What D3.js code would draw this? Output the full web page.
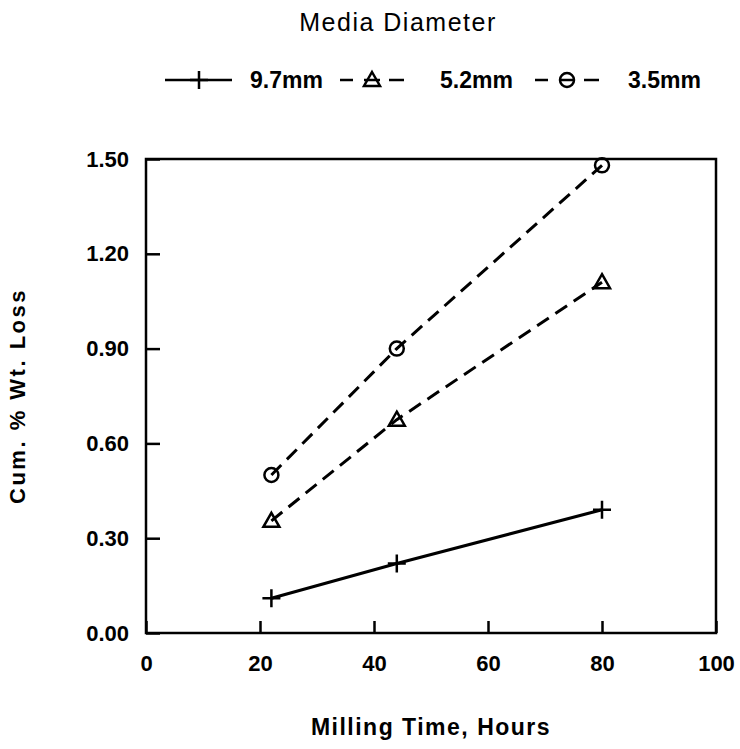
<!DOCTYPE html>
<html>
<head>
<meta charset="utf-8">
<script src="https://cdn.jsdelivr.net/npm/d3@7"></script>
<style>
  body { margin: 0; background: #fff; }
</style>
</head>
<body>
<div id="chart"></div>
<script>
// values
const hours = [22, 44, 80];
const loss97 = [0.11, 0.22, 0.39];
const loss52 = [0.355, 0.675, 1.11];
const loss35 = [0.50, 0.90, 1.48];
const seriesNames = ['9.7mm', '5.2mm', '3.5mm'];
const xTicks = [0, 20, 40, 60, 80, 100];
const yTicks = [0, 0.3, 0.6, 0.9, 1.2, 1.5];

const font = 'Arial, "Liberation Sans", Helvetica, sans-serif';
const width = 740;
const height = 749;
const margins = {left: 146, top: 159, right: 24, bottom: 116};
const chartWidth = width - margins.left - margins.right;
const chartHeight = height - margins.top - margins.bottom;

const root = d3.select('#chart')
  .append('svg')
  .attr('width', width)
  .attr('height', height)
  .style('display', 'block');

const svg = root.append('g')
  .attr('transform', 'translate(' + margins.left + ',' + margins.top + ')');

const x = d3.scaleLinear().domain([0, 100]).range([0, chartWidth]);
const y = d3.scaleLinear().domain([0, 1.5]).range([chartHeight, 0]);

// axes, ticks point inward like the original
const xAxis = svg.append('g')
  .attr('transform', 'translate(0,' + chartHeight + ')')
  .call(d3.axisBottom(x).tickValues(xTicks).tickSize(-12).tickPadding(22)
    .tickFormat(d3.format('d')));

const yAxis = svg.append('g')
  .call(d3.axisLeft(y).tickValues(yTicks).tickSize(-14).tickPadding(17)
    .tickFormat(d3.format('.2f')));

[xAxis, yAxis].forEach((a) => {
  a.select('.domain').remove();
  a.selectAll('.tick line').attr('stroke', '#000').attr('stroke-width', 2.5);
  a.selectAll('.tick text')
    .attr('font-family', font)
    .attr('font-size', 22)
    .attr('font-weight', 'bold')
    .attr('fill', '#000');
});

// frame
svg.append('rect')
  .attr('width', chartWidth)
  .attr('height', chartHeight)
  .attr('fill', 'none')
  .attr('stroke', '#000')
  .attr('stroke-width', 2.5);

const series = [
  {name: seriesNames[0], values: loss97, dash: null, marker: 'plus'},
  {name: seriesNames[1], values: loss52, dash: '14,8', marker: 'triangle'},
  {name: seriesNames[2], values: loss35, dash: '14,8', marker: 'circle'},
];

const line = d3.line().x((d) => x(d.x)).y((d) => y(d.y));

const drawMarker = (g, type, cx, cy) => {
  if (type === 'plus') {
    g.append('path')
      .attr('d', `M${cx - 9},${cy}H${cx + 9}M${cx},${cy - 9}V${cy + 9}`)
      .attr('stroke', '#000').attr('stroke-width', 2.5).attr('fill', 'none');
  } else if (type === 'triangle') {
    g.append('path')
      .attr('d', `M${cx},${cy - 8}L${cx + 8},${cy + 6}L${cx - 8},${cy + 6}Z`)
      .attr('stroke', '#000').attr('stroke-width', 2.5).attr('fill', 'none');
  } else {
    g.append('circle')
      .attr('cx', cx).attr('cy', cy).attr('r', 7)
      .attr('stroke', '#000').attr('stroke-width', 2.5).attr('fill', 'none');
  }
};

series.forEach((s) => {
  const pts = hours.map((h, i) => ({x: h, y: s.values[i]}));
  svg.append('path')
    .datum(pts)
    .attr('d', line)
    .attr('fill', 'none')
    .attr('stroke', '#000')
    .attr('stroke-width', 3)
    .attr('stroke-dasharray', s.dash);
  const g = svg.append('g');
  pts.forEach((p) => drawMarker(g, s.marker, x(p.x), y(p.y)));
});

// titles
root.append('text')
  .attr('x', 398)
  .attr('y', 31)
  .attr('text-anchor', 'middle')
  .attr('font-family', font)
  .attr('font-size', 25)
  .attr('letter-spacing', 1.5)
  .text('Media Diameter');

root.append('text')
  .attr('x', margins.left + chartWidth / 2)
  .attr('y', 735)
  .attr('text-anchor', 'middle')
  .attr('font-family', font)
  .attr('font-size', 23)
  .attr('font-weight', 'bold')
  .attr('letter-spacing', 1.5)
  .text('Milling Time, Hours');

root.append('text')
  .attr('transform', `translate(25, ${margins.top + chartHeight / 2}) rotate(-90)`)
  .attr('text-anchor', 'middle')
  .attr('font-family', font)
  .attr('font-size', 22)
  .attr('font-weight', 'bold')
  .attr('letter-spacing', 2.5)
  .text('Cum. % Wt. Loss');

// legend: [start, marker, end] of the symbol and start of the label
const legendY = 80;
const legendItems = [
  {sym: [165, 199, 232], text: 250},
  {sym: [340, 372, 404], text: 440},
  {sym: [535, 567, 599], text: 628},
];
const legend = root.append('g');
series.forEach((s, i) => {
  const [a, m, b] = legendItems[i].sym;
  const segs = s.dash
    ? [[a, a + 13], [m - 8, m + 8], [b - 15, b]]
    : [[a, b]];
  segs.forEach(([x1, x2]) => legend.append('line')
    .attr('x1', x1).attr('x2', x2)
    .attr('y1', legendY).attr('y2', legendY)
    .attr('stroke', '#000')
    .attr('stroke-width', 2.5));
  drawMarker(legend, s.marker, m, legendY);
  legend.append('text')
    .attr('x', legendItems[i].text)
    .attr('y', legendY)
    .attr('dy', '0.36em')
    .attr('font-family', font)
    .attr('font-size', 23)
    .attr('font-weight', 'bold')
    .text(s.name);
});
</script>
</body>
</html>
